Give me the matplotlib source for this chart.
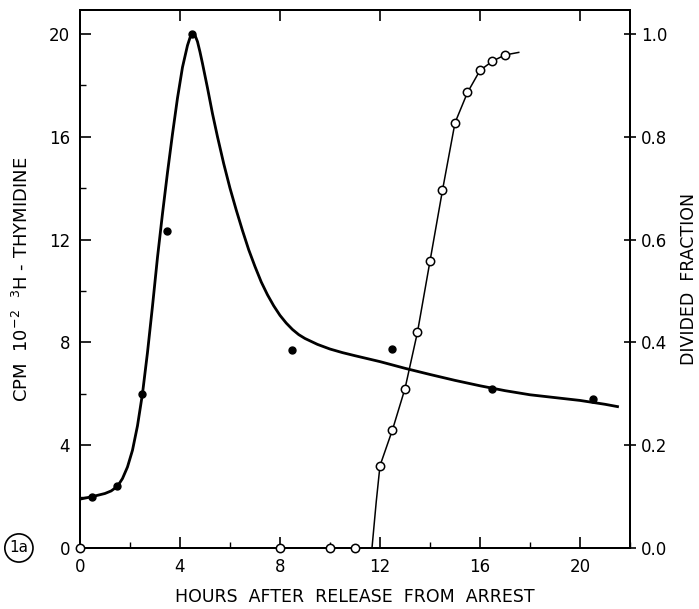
import numpy as np
import matplotlib
matplotlib.use("Agg")
import matplotlib.pyplot as plt
from matplotlib.ticker import MultipleLocator

# measured points, 3H-thymidine incorporation (CPM x 10^-2)
cpm_hours = [0.5, 1.5, 2.5, 3.5, 4.5, 8.5, 12.5, 16.5, 20.5]
cpm = [2.0, 2.4, 6.0, 12.35, 20.0, 7.7, 7.75, 6.2, 5.8]

# hand-drawn curve through the CPM points
cpm_curve_x = [0.0, 0.5, 1.0, 1.25, 1.5, 1.7, 1.9, 2.1, 2.3, 2.5, 2.7, 2.9,
               3.1, 3.3, 3.5, 3.7, 3.9, 4.1, 4.3, 4.4, 4.5, 4.6, 4.7, 4.8,
               4.9, 5.1, 5.3, 5.5, 5.75, 6.0, 6.25, 6.5, 6.75, 7.0, 7.25,
               7.5, 7.75, 8.0, 8.25, 8.5, 8.75, 9.0, 9.5, 10.0, 10.5, 11.0,
               12.0, 13.0, 14.0, 15.0, 16.0, 17.0, 18.0, 19.0, 20.0, 21.0, 21.5]
cpm_curve_y = [1.9, 2.0, 2.12, 2.22, 2.4, 2.7, 3.15, 3.8, 4.75, 6.0, 7.6, 9.4,
               11.3, 13.0, 14.6, 16.1, 17.5, 18.7, 19.55, 19.85, 20.0, 19.95,
               19.7, 19.3, 18.85, 17.9, 16.9, 16.0, 14.95, 14.0, 13.15, 12.35,
               11.6, 10.95, 10.35, 9.85, 9.42, 9.05, 8.75, 8.5, 8.3, 8.15,
               7.92, 7.74, 7.6, 7.48, 7.25, 6.99, 6.75, 6.52, 6.31, 6.12,
               5.96, 5.85, 5.74, 5.59, 5.5]

# divided fraction (open circles, right axis)
div_hours = [0, 8, 10, 11, 12, 12.5, 13, 13.5, 14, 14.5, 15, 15.5, 16, 16.5, 17]
div_frac = [0, 0, 0, 0, 0.16, 0.23, 0.31, 0.42, 0.558, 0.696, 0.827, 0.886,
            0.929, 0.947, 0.959]

div_curve_x = [11.68, 11.85, 12.0, 12.5, 13.0, 13.5, 14.0, 14.5, 15.0, 15.5,
               16.0, 16.5, 17.0, 17.55]
div_curve_y = [0.0, 0.09, 0.16, 0.23, 0.31, 0.42, 0.558, 0.696, 0.827, 0.886,
               0.929, 0.947, 0.959, 0.964]

plt.rcParams['font.family'] = ['DejaVu Sans']

fig = plt.figure(figsize=(6.99, 6.09), dpi=100)
ax = fig.add_axes([0.1144, 0.1002, 0.7869, 0.8834])
ax2 = ax.twinx()

ax.plot(cpm_curve_x, cpm_curve_y, color='black', lw=2.0, solid_joinstyle='round', zorder=3)
ax.plot(cpm_hours, cpm, 'o', color='black', ms=5, zorder=4)

ax2.plot(div_curve_x, div_curve_y, color='black', lw=1.1, zorder=3)
ax2.plot(div_hours, div_frac, 'o', mfc='white', mec='black', mew=1.1, ms=6,
         clip_on=False, zorder=5)

ax.set_xlim(0, 22)
ax.set_ylim(0, 20.93)
ax2.set_ylim(0, 20.93 / 20)

ax.xaxis.set_major_locator(MultipleLocator(4))
ax.xaxis.set_minor_locator(MultipleLocator(2))
ax.yaxis.set_major_locator(MultipleLocator(4))
ax.yaxis.set_minor_locator(MultipleLocator(2))
ax2.set_yticks([0.0, 0.2, 0.4, 0.6, 0.8, 1.0])
ax2.set_yticklabels(['0.0', '0.2', '0.4', '0.6', '0.8', '1.0'])

ax.tick_params(axis='both', which='major', direction='in', length=8, width=1.2,
               labelsize=12, top=True)
ax.tick_params(axis='both', which='minor', direction='in', length=4, width=1.0,
               top=False)
ax.tick_params(axis='x', pad=7)
ax.tick_params(axis='y', pad=7)
ax2.tick_params(axis='y', which='major', direction='inout', length=8, width=1.2,
                labelsize=12, pad=4)

for a in (ax, ax2):
    for s in a.spines.values():
        s.set_linewidth(1.4)

ax.set_xlabel('HOURS  AFTER  RELEASE  FROM  ARREST', fontsize=12.5, labelpad=9)
ax.set_ylabel('CPM  10$^{-2}$  $^{3}$H - THYMIDINE', fontsize=13, labelpad=12)
ax2.set_ylabel('DIVIDED  FRACTION', fontsize=12.5, labelpad=9, rotation=90)

ax.text(-0.111, 0.0, '1a', transform=ax.transAxes, ha='center', va='center',
        fontsize=11,
        bbox=dict(boxstyle='circle,pad=0.3', fc='white', ec='black', lw=1.2))

fig.savefig('out.png', dpi=100)
